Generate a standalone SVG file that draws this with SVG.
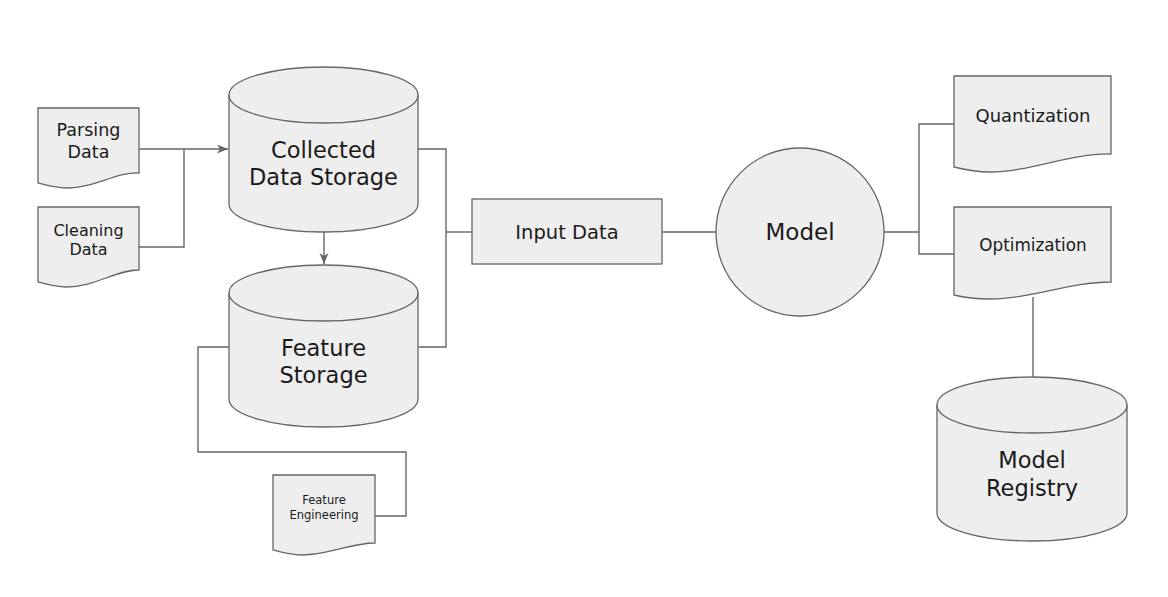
<svg xmlns="http://www.w3.org/2000/svg" width="1168" height="597" viewBox="0 0 1168 597">
<style>
.n{fill:#eeeeee;stroke:#666666;stroke-width:1.3}
.c{fill:none;stroke:#666666;stroke-width:1.4}
text{font-family:"DejaVu Sans","Liberation Sans",sans-serif;fill:#1a1a1a;text-anchor:middle;dominant-baseline:central}
.big{font-size:22.5px}
</style>
<defs>
<marker id="arr" markerWidth="12" markerHeight="10" refX="11" refY="5" orient="auto" markerUnits="userSpaceOnUse">
<path d="M0,0.5 L11,5 L0,9.5 L3,5 Z" fill="#666666"/>
</marker>
</defs>
<rect width="1168" height="597" fill="#ffffff"/>
<g id="connectors">
<path class="c" d="M139,149 H228" marker-end="url(#arr)"/>
<path class="c" d="M139,247 H184 V149"/>
<path class="c" d="M324,232 V264" marker-end="url(#arr)"/>
<path class="c" d="M418,149 H446 V347 H419"/>
<path class="c" d="M446,232 H472"/>
<path class="c" d="M229,347 H198 V452 H406 V516 H375"/>
<path class="c" d="M662,232 H716"/>
<path class="c" d="M884,232 H919"/>
<path class="c" d="M954,124 H919 V254 H954"/>
<path class="c" d="M1033,297 V377"/>
</g>
<g id="parsing">
<path class="n" d="M38,108 H139 V173 C115,172 95,188 67,188 C55,188 45,185 38,183 Z"/>
<text x="88.5" y="130" font-size="17.5">Parsing</text>
<text x="88.5" y="152" font-size="17.5">Data</text>
</g>
<g id="cleaning">
<path class="n" d="M38,207 H139 V270 C115,270 95,287 67,287 C55,287 45,284 38,282 Z"/>
<text x="88.5" y="230" font-size="16">Cleaning</text>
<text x="88.5" y="249" font-size="16">Data</text>
</g>
<g id="collected">
<path class="n" d="M229,95 A94.5,28 0 0 1 418,95 V204 A94.5,28 0 0 1 229,204 Z"/>
<path class="n" d="M229,95 A94.5,28 0 0 0 418,95"/>
<text class="big" x="323.5" y="150">Collected</text>
<text class="big" x="323.5" y="177">Data Storage</text>
</g>
<g id="feature">
<path class="n" d="M229,293 A94.5,28 0 0 1 418,293 V399 A94.5,28 0 0 1 229,399 Z"/>
<path class="n" d="M229,293 A94.5,28 0 0 0 418,293"/>
<text class="big" x="323.5" y="348">Feature</text>
<text class="big" x="323.5" y="375">Storage</text>
</g>
<g id="featureeng">
<path class="n" d="M273,475 H375 V543 C350,543 330,555 302,555 C290,555 280,552 273,550 Z"/>
<text x="324" y="500" font-size="11.5">Feature</text>
<text x="324" y="515" font-size="11.5">Engineering</text>
</g>
<g id="input">
<rect class="n" x="472" y="199" width="190" height="65"/>
<text x="567" y="232" font-size="19.5">Input Data</text>
</g>
<g id="model">
<circle class="n" cx="800" cy="232" r="84"/>
<text x="800" y="232" font-size="23">Model</text>
</g>
<g id="quant">
<path class="n" d="M954,76 H1111 V154 C1070,153 1030,172 990,172 C975,172 962,169 954,167 Z"/>
<text x="1033" y="115" font-size="18">Quantization</text>
</g>
<g id="opt">
<path class="n" d="M954,207 H1111 V282 C1070,282 1030,299 990,299 C975,299 962,297 954,295 Z"/>
<text x="1033" y="245" font-size="16.8">Optimization</text>
</g>
<g id="registry">
<path class="n" d="M937,405 A95,28 0 0 1 1127,405 V513 A95,28 0 0 1 937,513 Z"/>
<path class="n" d="M937,405 A95,28 0 0 0 1127,405"/>
<text class="big" x="1032" y="460">Model</text>
<text class="big" x="1032" y="488">Registry</text>
</g>
</svg>
